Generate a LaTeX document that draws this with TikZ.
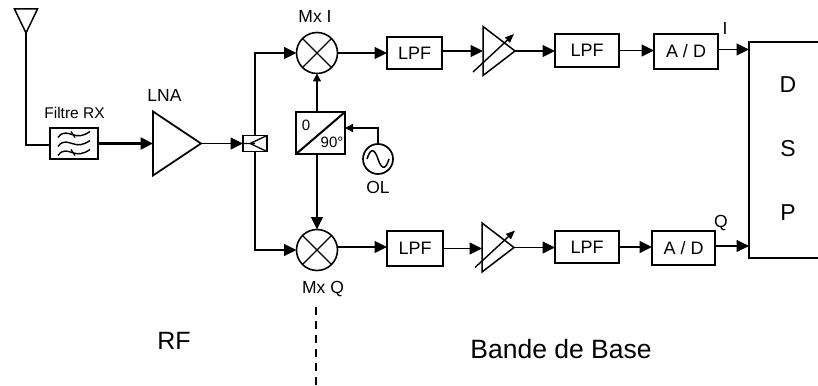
\documentclass[tikz,border=0pt]{standalone}
\usepackage{fontspec}
\setmainfont{Liberation Sans}
\usetikzlibrary{arrows.meta,shapes.geometric}

\tikzset{
    lab/.style={font=\fontsize{17.5}{18}\selectfont, inner sep=0pt},
    bloc/.style={draw, line width=2pt, inner sep=0pt, outer sep=0pt, font=\fontsize{18}{18}\selectfont},
    ampli/.style={draw, line width=1.7pt, isosceles triangle, isosceles triangle stretches,
        inner sep=0pt, outer sep=0pt, anchor=lower side},
    mixer/.style={draw, circle, line width=1.6pt, minimum size=41pt, inner sep=0pt, outer sep=0pt,
        path picture={
            \draw[line width=1.3pt] (path picture bounding box.north west) -- (path picture bounding box.south east);
            \draw[line width=1.3pt] (path picture bounding box.north east) -- (path picture bounding box.south west);
        }},
    link/.style={line width=1.6pt},
    sig/.style={line width=1.6pt, -{Triangle[length=12.5pt,width=12pt]}},
    sigsmall/.style={line width=1.6pt, -{Triangle[length=8pt,width=8pt]}},
    gain/.style={line width=1.4pt, -{Triangle[length=9pt,width=7pt]}},
}

\begin{document}
\begin{tikzpicture}[x=1pt, y=-1pt]

\useasboundingbox (0,0) rectangle (818,385);

% --- Antenna and RX filter ---
\node[draw, line width=1.5pt, isosceles triangle, isosceles triangle stretches, shape border rotate=-90,
    inner sep=0pt, outer sep=0pt, minimum width=23pt, minimum height=24pt, anchor=apex] (ant) at (26,33) {};
\node[bloc, minimum width=48pt, minimum height=31pt] (filtre) at (74,143.5) {};
\node[lab, font=\fontsize{15.5}{15}\selectfont] (filtrelab) at (74.5,113) {Filtre RX};
\foreach \dy in {-9,0,9}
    \draw[line width=1.4pt, shift={(74,143.5+\dy)}] (-16,3) .. controls (-11,-4) and (-6,-1) .. (-2,0)
        .. controls (4,2) and (9,2) .. (16,-3);
\foreach \dy in {-9,9}
    \draw[line width=1.3pt, shift={(74,143.5+\dy)}] (-3,-3) -- (1,3);

% --- LNA and coupler ---
\node[ampli, minimum width=64pt, minimum height=48pt] (lna) at (153,143.5) {};
\node[lab] (lnalab) at (164.5,95) {LNA};
\node[bloc, minimum width=24pt, minimum height=16pt, line width=1.6pt,
    path picture={
        \draw[line width=1.3pt] (path picture bounding box.west) -- (0,0)
            (path picture bounding box.north east) -- (-5,0) -- (path picture bounding box.south east);
    }] (coupler) at (255,143.5) {};

% --- Mixers, phase shifter, local oscillator ---
\node[mixer] (mixI) at (317,53) {};
\node[mixer] (mixQ) at (317,250) {};
\node[lab] (mixIlab) at (315,16) {Mx I};
\node[lab] (mixQlab) at (323,289) {Mx Q};
\node[bloc, minimum width=49pt, minimum height=42pt,
    path picture={
        \draw[line width=2pt] (path picture bounding box.south west) -- (path picture bounding box.north east);
    }] (phase) at (320.5,133) {};
\node[lab, font=\fontsize{15}{15}\selectfont] (phasezero) at (306,125) {0};
\node[lab, font=\fontsize{15}{15}\selectfont] (phasenine) at (332,142) {90\textdegree};
\node[draw, circle, line width=1.7pt, minimum size=30pt, inner sep=0pt, outer sep=0pt] (ol) at (378,159) {};
\draw[line width=1.5pt] (367,159) .. controls (371,146) and (375,150) .. (378,159)
    .. controls (381,168) and (385,172) .. (389,159);
\node[lab] (ollab) at (378,187) {OL};

% --- I channel ---
\node[bloc, minimum width=55pt, minimum height=32pt] (lpfA) at (414.5,53) {LPF};
\node[ampli, line width=1.5pt, minimum width=49pt, minimum height=32pt] (ampI) at (483,51) {};
\node[bloc, minimum width=64pt, minimum height=33pt] (lpfB) at (587,50.5) {LPF};
\node[bloc, minimum width=64pt, minimum height=35pt] (adI) at (686,51.5) {A / D};
\node[lab] (Ilab) at (725,28) {I};

% --- Q channel ---
\node[bloc, minimum width=56pt, minimum height=35pt] (lpfC) at (415,248.5) {LPF};
\node[ampli, line width=1.5pt, minimum width=49pt, minimum height=32pt] (ampQ) at (482,247.5) {};
\node[bloc, minimum width=64pt, minimum height=32pt] (lpfD) at (587,247) {LPF};
\node[bloc, minimum width=63pt, minimum height=34pt] (adQ) at (683.5,248) {A / D};
\node[lab] (Qlab) at (721,223) {Q};

% --- DSP ---
\node[minimum width=69pt, minimum height=216pt, inner sep=0pt, outer sep=0pt] (dsp) at (783.5,150) {};
\draw[line width=2pt] (dsp.north east) -- (dsp.north west) -- (dsp.south west) -- (dsp.south east);
\node[lab, font=\fontsize{23}{23}\selectfont] (dspD) at (788,85) {D};
\node[lab, font=\fontsize{23}{23}\selectfont] (dspS) at (788,149) {S};
\node[lab, font=\fontsize{23}{23}\selectfont] (dspP) at (788,213) {P};

% --- Zones ---
\node[lab, font=\fontsize{25}{25}\selectfont] (rf) at (174,341) {RF};
\node[lab, font=\fontsize{26.5}{26}\selectfont] (bb) at (561,349) {Bande de Base};
\coordinate (septop) at (316,307);
\coordinate (sepbot) at (316,385);
\draw[line width=2pt, dash pattern=on 7.5pt off 6.5pt] (septop) -- (sepbot);

% --- Connections ---
\draw[link] (ant.apex) |- ([yshift=-1.5pt]filtre.west);
\draw[sig, line width=2.2pt] (filtre.east) -- (lna.lower side);
\draw[sig] (lna.apex) -- (coupler.west);
\draw[sig] (coupler.north) |- (mixI.west);
\draw[sig] (coupler.south) |- (mixQ.west);
\draw[sig] (mixI.east) -- (lpfA.west);
\draw[sig] ([yshift=3pt]mixQ.east) -- ([yshift=3pt]mixQ.east -| lpfC.west);
\draw[sigsmall] (phase.north -| mixI.south) -- (mixI.south);
\draw[sig] (phase.south -| mixQ.north) -- (mixQ.north);
\draw[sigsmall] (ol.north) |- ([yshift=5pt]phase.east);
\draw[sig] ([yshift=2pt]lpfA.east) -- ([yshift=2pt]lpfA.east -| ampI.lower side);
\draw[sig] (ampI.apex) -- (ampI.apex -| lpfB.west);
\draw[sig] (lpfB.east) -- (lpfB.east -| adI.west);
\draw[sig] ([yshift=2pt]adI.east) -- ([yshift=2pt]adI.east -| dsp.west);
\draw[sig] (lpfC.east) -- (lpfC.east -| ampQ.lower side);
\draw[sig] (ampQ.apex) -- (ampQ.apex -| lpfD.west);
\draw[sig] (lpfD.east) -- (lpfD.east -| adQ.west);
\draw[sig] ([yshift=2pt]adQ.east) -- ([yshift=2pt]adQ.east -| dsp.west);

% --- Gain arrows ---
\draw[gain] ([shift={(-10pt,-21pt)}]ampI.lower side) -- ([shift={(31pt,17pt)}]ampI.lower side);
\draw[gain] ([shift={(-7pt,-20pt)}]ampQ.lower side) -- ([shift={(33pt,17pt)}]ampQ.lower side);

\end{tikzpicture}
\end{document}
